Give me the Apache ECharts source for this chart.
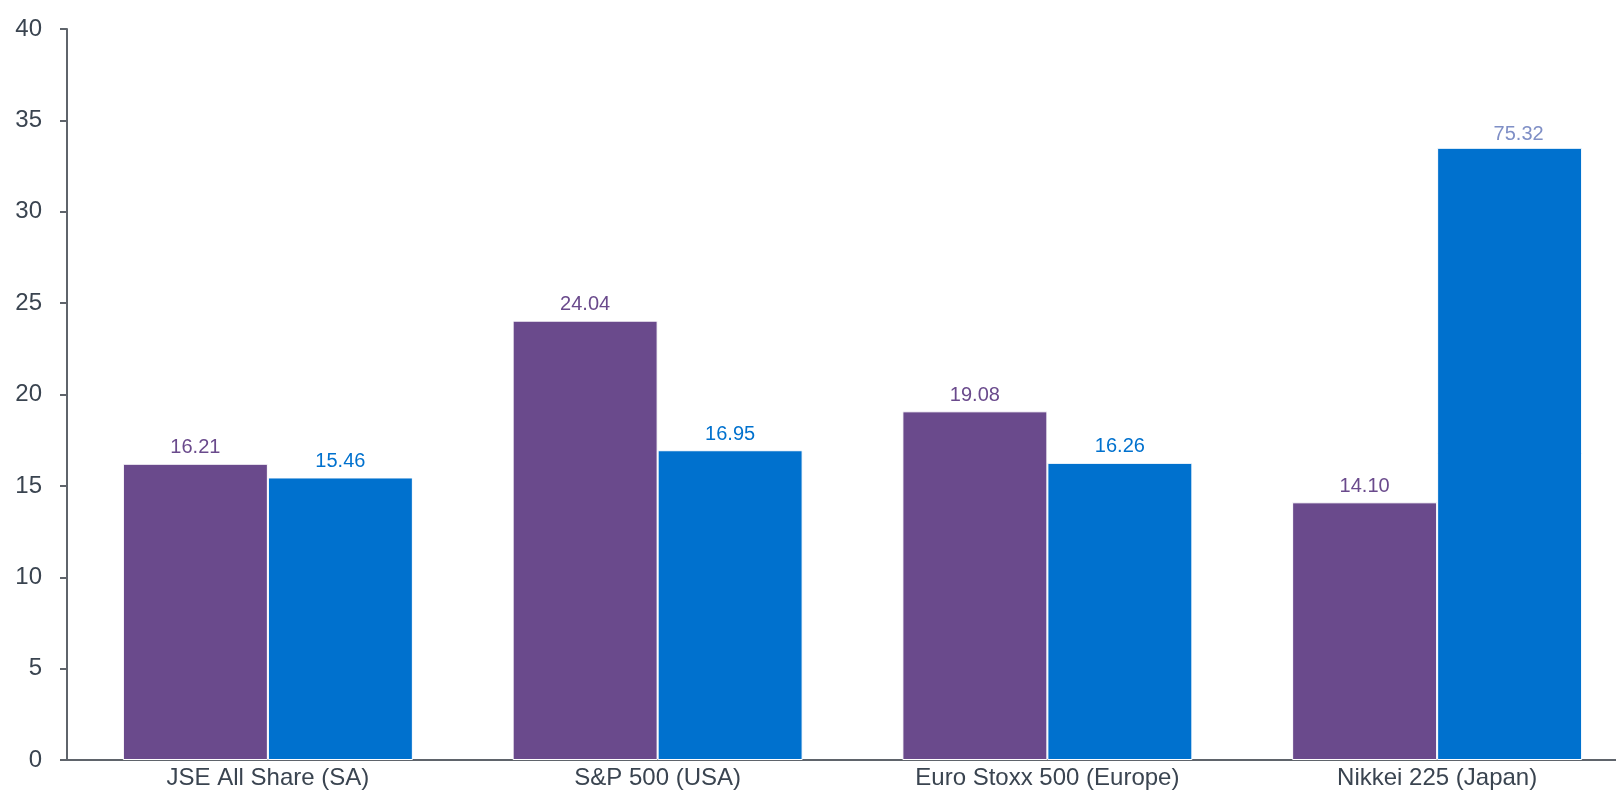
<!DOCTYPE html>
<html>
<head>
<meta charset="utf-8">
<script src="https://cdn.jsdelivr.net/npm/echarts@6/dist/echarts.min.js"></script>
<style>
html,body{margin:0;padding:0;background:#fff;overflow:hidden;}
#chart{width:1616px;height:792px;}
</style>
</head>
<body>
<div id="chart"></div>
<script>
const categories = ['JSE All Share (SA)', 'S&P 500 (USA)', 'Euro Stoxx 500 (Europe)', 'Nikkei 225 (Japan)'];
const yTicks = [0, 5, 10, 15, 20, 25, 30, 35, 40];
const purpleValues = [16.21, 24.04, 19.08, 14.10];
const blueValues = [15.46, 16.95, 16.26, 75.32];
// plotted height of the Nikkei blue bar is truncated in the original chart
const blueDrawn = [15.46, 16.95, 16.26, 33.5];

const purple = '#6A4A8C';
const blue = '#0071CE';
const blueOverflowLabel = '#7F8FC6';
const axisColor = '#5F646B';
const textColor = '#3A4450';

const yMin = yTicks[0];
const yMax = yTicks[yTicks.length - 1];

const chart = echarts.init(document.getElementById('chart'), null, {renderer: 'canvas'});
chart.setOption({
  animation: false,
  textStyle: {fontFamily: 'Liberation Sans, Arial, sans-serif'},
  grid: [
    // frame grid: carries the visible axis lines and value ticks
    {left: 67, width: 1549, top: 29, bottom: 32, containLabel: false, outerBoundsMode: 'none'},
    // plotting grid: carries bars and category labels
    {left: 73, width: 1559, top: 29, bottom: 32, containLabel: false, outerBoundsMode: 'none'}
  ],
  xAxis: [
    {
      gridIndex: 0, type: 'category', data: categories,
      axisLine: {lineStyle: {color: axisColor, width: 2}},
      axisTick: {show: false}, axisLabel: {show: false}
    },
    {
      gridIndex: 1, type: 'category', data: categories,
      axisLine: {show: false}, axisTick: {show: false},
      axisLabel: {color: textColor, fontSize: 24, margin: 6}
    }
  ],
  yAxis: [
    {
      gridIndex: 0, type: 'value', min: yMin, max: yMax, interval: 5,
      axisLine: {show: true, lineStyle: {color: axisColor, width: 2}},
      axisTick: {show: true, length: 7, lineStyle: {color: axisColor, width: 2}},
      splitLine: {show: false},
      axisLabel: {color: textColor, fontSize: 24, margin: 25}
    },
    {
      gridIndex: 1, type: 'value', min: yMin, max: yMax, interval: 5, show: false,
      splitLine: {show: false}
    }
  ],
  series: [
    {
      type: 'bar',
      name: 'Series 1',
      xAxisIndex: 1, yAxisIndex: 1,
      data: purpleValues.map(v => ({value: v})),
      barGap: '0%',
      barCategoryGap: '25.6%',
      itemStyle: {color: purple, borderColor: '#ffffff', borderWidth: 1},
      label: {
        show: true, position: 'top', distance: 6,
        color: purple, fontSize: 20,
        formatter: p => purpleValues[p.dataIndex].toFixed(2)
      }
    },
    {
      type: 'bar',
      name: 'Series 2',
      xAxisIndex: 1, yAxisIndex: 1,
      data: blueDrawn.map((v, i) => ({
        value: v,
        label: blueValues[i] !== v ? {color: blueOverflowLabel, offset: [9, 3]} : undefined
      })),
      barGap: '0%',
      barCategoryGap: '25.6%',
      itemStyle: {color: blue, borderColor: '#ffffff', borderWidth: 1},
      label: {
        show: true, position: 'top', distance: 6,
        color: blue, fontSize: 20,
        formatter: p => blueValues[p.dataIndex].toFixed(2)
      }
    }
  ]
});
</script>
</body>
</html>
